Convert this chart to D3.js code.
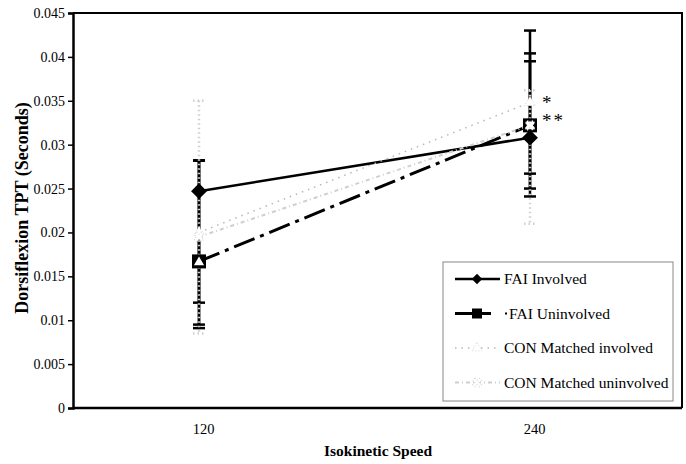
<!DOCTYPE html>
<html>
<head>
<meta charset="utf-8">
<script src="https://cdn.jsdelivr.net/npm/d3@7"></script>
<style>
  body { margin: 0; background: #fff; }
  text { font-family: "Liberation Serif", "Times New Roman", serif; }
</style>
</head>
<body>
<svg id="chart" width="686" height="464"></svg>
<script>
//*************** data ******************//
var speeds = [120, 240];
var yTicks = [0, 0.005, 0.01, 0.015, 0.02, 0.025, 0.03, 0.035, 0.04, 0.045];

var faiInvolved      = [0.0247, 0.0308];
var faiInvolvedPlus  = [0.0035, 0.0096];
var faiInvolvedMinus = [0.0127, 0.0041];

var faiUninvolved      = [0.0167, 0.0322];
var faiUninvolvedPlus  = [0.0115, 0.0108];
var faiUninvolvedMinus = [0.0072, 0.0081];

var conInvolved      = [0.0200, 0.0348];
var conInvolvedPlus  = [0.0082, 0.0047];
var conInvolvedMinus = [0.0109, 0.0098];

var conUninvolved      = [0.0195, 0.0322];
var conUninvolvedPlus  = [0.0155, 0.0040];
var conUninvolvedMinus = [0.0110, 0.0112];

var legendLabels = ["FAI Involved", "FAI Uninvolved", "CON Matched involved", "CON Matched uninvolved"];

//*************** set up ******************//
var svg = d3.select("#chart");
var plotLeft = 73, plotRight = 682, plotTop = 13, plotBottom = 408;

var xScale = d3.scaleLinear().domain([120, 240]).range([199, 530]);
var yScale = d3.scaleLinear().domain([0, 0.045]).range([plotBottom, plotTop]);

// plot frame (top and right)
svg.append("path")
  .attr("d", "M" + plotLeft + "," + plotTop + "H" + plotRight + "V" + plotBottom)
  .attr("fill", "none").attr("stroke", "#000").attr("stroke-width", 2);

// y axis
var yAxis = svg.append("g")
  .attr("transform", "translate(" + plotLeft + ",0)")
  .call(d3.axisLeft(yScale).tickValues(yTicks).tickSize(5).tickPadding(3)
        .tickFormat(function(d) { return d === 0 ? "0" : String(+d.toFixed(3)); }));
yAxis.select(".domain").attr("stroke-width", 2.5);
yAxis.selectAll(".tick line").attr("stroke-width", 1.5);
yAxis.selectAll("text").attr("font-size", 14).attr("font-family", "Liberation Serif");

// x axis
var xAxis = svg.append("g")
  .attr("transform", "translate(0," + plotBottom + ")")
  .call(d3.axisBottom(xScale).tickValues(speeds).tickSize(0).tickPadding(16));
xAxis.select(".domain").attr("d", "M" + plotLeft + ",0H" + plotRight).attr("stroke-width", 2.5);
xAxis.selectAll("text").attr("font-size", 14.5).attr("font-family", "Liberation Serif")
  .attr("dx", 4);

// axis titles
svg.append("text")
  .attr("x", 378).attr("y", 456)
  .attr("text-anchor", "middle")
  .attr("font-size", 15.5).attr("font-weight", "bold")
  .text("Isokinetic Speed");

svg.append("text")
  .attr("transform", "translate(28,208) rotate(-90)")
  .attr("text-anchor", "middle")
  .attr("font-size", 18).attr("font-weight", "bold")
  .text("Dorsiflexion TPT (Seconds)");

//*************** series ******************//
function pts(vals, plus, minus) {
  return speeds.map(function(s, i) { return { x: s, y: vals[i], hi: vals[i] + plus[i], lo: vals[i] - minus[i] }; });
}
var series = [
  { name: legendLabels[0], data: pts(faiInvolved, faiInvolvedPlus, faiInvolvedMinus),
    color: "#000", width: 2.5, dash: null, barColor: "#000", barDash: null, marker: "diamond" },
  { name: legendLabels[1], data: pts(faiUninvolved, faiUninvolvedPlus, faiUninvolvedMinus),
    color: "#000", width: 3, dash: "22,6,4,6", barColor: "#000", barDash: null, marker: "square" },
  { name: legendLabels[2], data: pts(conInvolved, conInvolvedPlus, conInvolvedMinus),
    color: "#b8b8b8", width: 1.5, dash: "1.5,5", barColor: "#000", barDash: null, marker: "tri" },
  { name: legendLabels[3], data: pts(conUninvolved, conUninvolvedPlus, conUninvolvedMinus),
    color: "#cfcfcf", width: 2, dash: "4,3,1,3", barColor: "#d0d0d0", barDash: "1.5,3", marker: "star" }
];

var line = d3.line().x(function(d) { return xScale(d.x); }).y(function(d) { return yScale(d.y); });
var plot = svg.append("g").attr("class", "plot");

// error bars (drawn first, under the lines)
series.forEach(function(s) {
  var g = plot.append("g").attr("class", "errbars");
  g.selectAll("line.v").data(s.data).enter().append("line")
    .attr("x1", function(d) { return xScale(d.x); }).attr("x2", function(d) { return xScale(d.x); })
    .attr("y1", function(d) { return yScale(d.hi); }).attr("y2", function(d) { return yScale(d.lo); })
    .attr("stroke", s.barColor).attr("stroke-width", 2.5)
    .attr("stroke-dasharray", s.barDash);
  ["hi", "lo"].forEach(function(k) {
    g.selectAll("line." + k).data(s.data).enter().append("line")
      .attr("x1", function(d) { return xScale(d.x) - 6; }).attr("x2", function(d) { return xScale(d.x) + 6; })
      .attr("y1", function(d) { return yScale(d[k]); }).attr("y2", function(d) { return yScale(d[k]); })
      .attr("stroke", s.barColor).attr("stroke-width", 2.5)
      .attr("stroke-dasharray", s.barDash);
  });
});

// lines; light series on top, with a white halo so they cut the black bars
[series[0], series[1], series[3], series[2]].forEach(function(s) {
  if (s.marker === "tri" || s.marker === "star") {
    plot.append("path").datum(s.data)
      .attr("fill", "none").attr("stroke", "#fff").attr("stroke-width", 5)
      .attr("stroke-dasharray", "0,10,5,1000")
      .attr("d", line);
  }
  plot.append("path").datum(s.data)
    .attr("fill", "none").attr("stroke", s.color).attr("stroke-width", s.width)
    .attr("stroke-dasharray", s.dash).attr("d", line);
});

// markers
function drawMarker(g, type, cx, cy, small) {
  var k = small ? 0.8 : 1;
  if (type === "diamond") {
    g.append("path").attr("d", d3.symbol(d3.symbolDiamond2, 160 * k)())
      .attr("transform", "translate(" + cx + "," + cy + ")")
      .attr("fill", "#000");
  } else if (type === "square") {
    g.append("rect").attr("x", cx - 7 * k).attr("y", cy - 7 * k)
      .attr("width", 14 * k).attr("height", 14 * k).attr("fill", "#000");
    g.append("path").attr("d", d3.symbol(d3.symbolTriangle, 45 * k)())
      .attr("transform", "translate(" + cx + "," + (cy + 1) + ")").attr("fill", "#fff");
  } else if (type === "tri") {
    g.append("path").attr("d", d3.symbol(d3.symbolTriangle, 50 * k)())
      .attr("transform", "translate(" + cx + "," + cy + ")")
      .attr("fill", "#fff").attr("stroke", "#d4d4d4").attr("stroke-width", 1).attr("stroke-dasharray", "1,2");
  } else if (type === "star") {
    g.append("path").attr("d", d3.symbol(d3.symbolCross, 60 * k)())
      .attr("transform", "translate(" + cx + "," + cy + ") rotate(45)")
      .attr("fill", "#fff").attr("stroke", "#cfcfcf").attr("stroke-width", 1).attr("stroke-dasharray", "1,2");
  }
}

series.forEach(function(s) {
  var g = plot.append("g").attr("class", "markers");
  s.data.forEach(function(d) { drawMarker(g, s.marker, xScale(d.x), yScale(d.y), false); });
});

// significance asterisks
svg.append("text").attr("x", xScale(240) + 12).attr("y", yScale(conInvolved[1]) + 6)
  .attr("font-size", 19).attr("fill", "#000").text("*");
svg.append("text").attr("x", xScale(240) + 12).attr("y", yScale(faiUninvolved[1]) + 2)
  .attr("font-size", 19).attr("fill", "#000").attr("letter-spacing", 2).text("**");

//*************** legend ******************//
var lg = svg.append("g").attr("class", "legend").attr("transform", "translate(443,262)");
lg.append("rect").attr("x", 0).attr("y", 0).attr("width", 230).attr("height", 139)
  .attr("fill", "#fff").attr("stroke", "#888").attr("stroke-width", 1);

series.forEach(function(s, i) {
  var y = 17 + i * 34.5;
  var row = lg.append("g").attr("transform", "translate(0," + y + ")");
  row.append("line").attr("x1", 12).attr("x2", s.marker === "square" ? 48 : 57)
    .attr("y1", 0).attr("y2", 0)
    .attr("stroke", s.color).attr("stroke-width", s.width)
    .attr("stroke-dasharray", s.marker === "square" ? null : s.dash);
  if (s.marker === "square") {
    row.append("rect").attr("x", 62).attr("y", -1).attr("width", 2).attr("height", 2).attr("fill", "#000");
    row.append("rect").attr("x", 29).attr("y", -5).attr("width", 10).attr("height", 10).attr("fill", "#000");
  } else if (s.marker === "diamond") {
    row.append("path").attr("d", d3.symbol(d3.symbolDiamond2, 70)())
      .attr("transform", "translate(34,0)").attr("fill", "#000");
  } else {
    drawMarker(row, s.marker, 34, 0, true);
  }
  row.append("text").attr("x", s.marker === "square" ? 66 : 61).attr("y", 5)
    .attr("font-size", 15.5).text(s.name);
});
</script>
</body>
</html>
